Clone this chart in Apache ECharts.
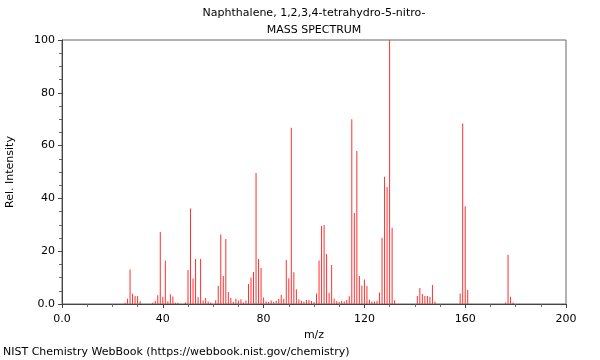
<!DOCTYPE html>
<html>
<head>
<meta charset="utf-8">
<script src="https://cdn.jsdelivr.net/npm/echarts@6/dist/echarts.min.js"></script>
<style>
html,body{margin:0;padding:0;background:#fff;}
#chart{width:600px;height:360px;}
</style>
</head>
<body>
<div id="chart"></div>
<script>
const titleLines = ['Naphthalene, 1,2,3,4-tetrahydro-5-nitro-', 'MASS SPECTRUM'];
const xAxisName = 'm/z';
const yAxisName = 'Rel. Intensity';
const footer = 'NIST Chemistry WebBook (https://webbook.nist.gov/chemistry)';

const mz = [25,26,27,28,29,30,31,36,37,38,39,40,41,42,43,44,45,46,49,50,51,52,53,54,55,56,57,58,59,61,62,63,64,65,66,67,68,69,70,71,72,73,74,75,76,77,78,79,80,81,82,83,84,85,86,87,88,89,90,91,92,93,94,95,96,97,98,99,100,101,102,103,104,105,106,107,108,109,110,111,112,113,114,115,116,117,118,119,120,121,122,123,124,125,126,127,128,129,130,131,132,141,142,143,144,145,146,147,148,158,159,160,161,176,177,178,179];
const intensity = [0.5,2,13.1,3.9,3,3,1,0.5,1.1,3.3,27.3,2.7,16.5,1,3.7,2.8,0.5,0.5,0.6,12.9,36.2,9.7,17,2.6,17,1.3,2.3,0.9,0.6,1.4,6.8,26.3,10.6,24.6,4.5,2.3,0.8,2,1.3,1.8,0.6,1.3,7.6,10,12.1,49.6,17,13.6,2.5,1,0.8,1.3,0.8,1.2,2,3.4,2,16.7,9.8,66.8,12,5.6,1.8,1.2,0.9,1.5,1.5,1.1,0.8,4,16.5,29.5,29.9,18.9,4.3,14.8,2.1,1,0.8,1.2,0.9,1.5,2.9,70,34.5,58,10.6,7,9.3,6.8,1.6,0.9,0.9,1.1,4.4,25.1,48.2,44.3,100,28.9,1.4,3,6.1,3.8,3,3,2.7,7.2,0.9,4,68.4,37,5.3,0.6,18.7,2.7,0.6];

const data = mz.map((m, i) => [m, intensity[i]]);
const font = 'DejaVu Sans';
const chart = echarts.init(document.getElementById('chart'), null, {renderer: 'canvas'});
chart.setOption({
  animation: false,
  backgroundColor: '#fff',
  grid: {left: 62, right: 34, top: 40, bottom: 56, containLabel: false, outerBoundsMode: 'none',
    show: true, borderColor: '#666', borderWidth: 1, backgroundColor: 'transparent'},
  xAxis: {
    type: 'value', min: 0, max: 200, interval: 40,
    name: xAxisName, nameLocation: 'middle', nameGap: 23,
    nameTextStyle: {fontFamily: font, fontSize: 11, color: '#000'},
    axisLine: {show: true, onZero: false, lineStyle: {color: '#444', width: 1}},
    axisTick: {show: true, length: 4, lineStyle: {color: '#444'}},
    minorTick: {show: true, splitNumber: 4, length: 3, lineStyle: {color: '#666'}},
    splitLine: {show: false},
    axisLabel: {fontFamily: font, fontSize: 11, color: '#000', margin: 10,
      formatter: v => v === 0 ? '0.0' : String(v)}
  },
  yAxis: {
    type: 'value', min: 0, max: 100, interval: 20,
    name: yAxisName, nameLocation: 'middle', nameGap: 46, nameRotate: 90,
    nameTextStyle: {fontFamily: font, fontSize: 11, color: '#000'},
    axisLine: {show: true, lineStyle: {color: '#444', width: 1}},
    axisTick: {show: true, length: 4, lineStyle: {color: '#444'}},
    minorTick: {show: true, splitNumber: 4, length: 3, lineStyle: {color: '#666'}},
    splitLine: {show: false},
    axisLabel: {fontFamily: font, fontSize: 11, color: '#000', margin: 7,
      formatter: v => v === 0 ? '0.0' : String(v)}
  },
  series: [{
    type: 'bar',
    data: data,
    barWidth: 1,
    itemStyle: {color: '#ff3030'},
    silent: true
  }],
  graphic: [
    {type: 'text', x: 314, y: 13, style: {text: titleLines[0], font: '11px "DejaVu Sans"', fill: '#000', textAlign: 'center', textVerticalAlign: 'middle'}},
    {type: 'text', x: 314, y: 30, style: {text: titleLines[1], font: '11px "DejaVu Sans"', fill: '#000', textAlign: 'center', textVerticalAlign: 'middle'}},
    {type: 'text', x: 3, y: 352, style: {text: footer, font: '11px "DejaVu Sans"', fill: '#000', textAlign: 'left', textVerticalAlign: 'middle'}}
  ]
});
</script>
</body>
</html>
